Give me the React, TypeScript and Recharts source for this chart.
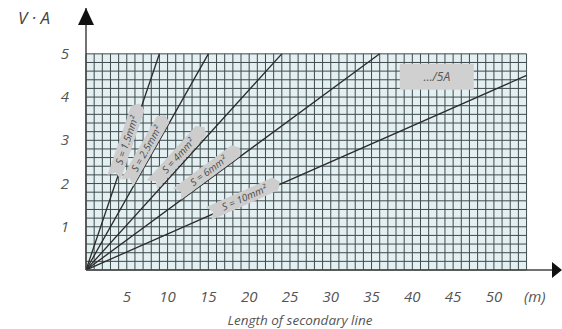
import React from 'react';
import { LineChart, Line, XAxis, YAxis, ReferenceArea, ReferenceLine, ReferenceDot } from 'recharts';

const cableLabels = ['S = 1.5mm²', 'S = 2.5mm²', 'S = 4mm²', 'S = 6mm²', 'S = 10mm²'];
const lineEndLength = [9, 15, 24, 36, 54];
const lineEndVA = [5, 5, 5, 5, 4.5];
const labelLength = [5.0, 7.4, 11.3, 15.0, 19.4];
const labelVA = [3.0, 2.8, 2.64, 2.29, 1.67];
const labelAngle = [71, 60.5, 48, 36.5, 24];

const xTicks = [5, 10, 15, 20, 25, 30, 35, 40, 45, 50, 55];
const yTicks = [1, 2, 3, 4, 5];
const currentLabel = '…/5A';
const currentLabelPos = { x: 43.0, y: 4.47 };

const GRID_X_MAX = 54;
const GRID_Y_MAX = 5;
const X_DOMAIN_MAX = 58.1;
const Y_DOMAIN_MAX = 6.06;
const gridXs = Array.from({ length: GRID_X_MAX + 1 }, (_, i) => i);
const gridYs = Array.from({ length: 26 }, (_, i) => +(i * 0.2).toFixed(1));

const FONT = '"Open Sans", "DejaVu Sans", sans-serif';

const XTick = (props: any) => {
  const { x, y, payload } = props;
  const label = payload.value === 55 ? '(m)' : String(payload.value);
  return (
    <text x={x} y={y + 32} textAnchor="middle" fontFamily={FONT} fontStyle="italic" fontSize={15} fill="#555">
      {label}
    </text>
  );
};

const YTick = (props: any) => {
  const { x, y, payload } = props;
  return (
    <text x={x - 21} y={y + 5} textAnchor="middle" fontFamily={FONT} fontStyle="italic" fontSize={15} fill="#555">
      {payload.value}
    </text>
  );
};

const makeTagShape = (text: string, angle: number) => (props: any) => {
  const { cx, cy } = props;
  const len = 78;
  const h = 14;
  const p = 5;
  const pts = [
    [-len / 2, -h / 2],
    [len / 2 - p, -h / 2],
    [len / 2, 0],
    [len / 2 - p, h / 2],
    [-len / 2, h / 2],
    [-len / 2 + p, 0],
  ]
    .map((q) => q.join(','))
    .join(' ');
  return (
    <g transform={`translate(${cx},${cy}) rotate(${-angle})`}>
      <polygon points={pts} fill="#cdcdcd" />
      <text x={0} y={3.5} textAnchor="middle" fontFamily={FONT} fontStyle="italic" fontSize={10} fill="#4a4a4a">
        {text}
      </text>
    </g>
  );
};

const CurrentShape = (props: any) => {
  const { cx, cy } = props;
  return (
    <g>
      <rect x={cx - 37} y={cy - 13} width={74} height={26} fill="#d0d0d0" />
      <text x={cx} y={cy + 4.5} textAnchor="middle" fontFamily={FONT} fontStyle="italic" fontSize={12} fill="#555">
        {currentLabel}
      </text>
    </g>
  );
};

const YArrow = (props: any) => {
  const { cx, cy } = props;
  return <polygon points={`${cx},${cy} ${cx - 8},${cy + 17} ${cx + 8},${cy + 17}`} fill="#111" />;
};

const XArrow = (props: any) => {
  const { cx, cy } = props;
  return <polygon points={`${cx + 2},${cy} ${cx - 8},${cy - 8} ${cx - 8},${cy + 8}`} fill="#111" />;
};

const YLabel = (props: any) => {
  const { viewBox } = props;
  return (
    <text x={viewBox.x + 34} y={viewBox.y + 16} textAnchor="middle" fontFamily={FONT} fontStyle="italic" fontSize={17} fill="#444">
      V · A
    </text>
  );
};

const XLabel = (props: any) => {
  const { viewBox } = props;
  return (
    <text x={viewBox.x + 214} y={viewBox.y + 55} textAnchor="middle" fontFamily={FONT} fontStyle="italic" fontSize={13.5} fill="#555">
      Length of secondary line
    </text>
  );
};

export default function App() {
  return (
    <div style={{ position: 'absolute', left: 0, top: 0, background: '#fff' }}>
      <LineChart width={562} height={329} margin={{ top: 8, right: 2, bottom: 0, left: 0 }}>
        <XAxis
          type="number"
          dataKey="x"
          domain={[0, X_DOMAIN_MAX]}
          ticks={xTicks}
          interval={0}
          tickLine={false}
          tickSize={0}
          tickMargin={0}
          tick={<XTick />}
          height={59}
          axisLine={{ stroke: '#444', strokeWidth: 1.5 }}
          allowDataOverflow
          label={<XLabel />}
        />
        <YAxis
          type="number"
          dataKey="y"
          domain={[0, Y_DOMAIN_MAX]}
          ticks={yTicks}
          interval={0}
          tickLine={false}
          tickSize={0}
          tickMargin={0}
          tick={<YTick />}
          width={86}
          axisLine={{ stroke: '#444', strokeWidth: 1.5 }}
          allowDataOverflow
          label={<YLabel />}
        />
        <ReferenceArea x1={0} x2={GRID_X_MAX} y1={0} y2={GRID_Y_MAX} fill="#e3eff1" fillOpacity={1} stroke="none" />
        {gridXs.map((gx) => (
          <ReferenceLine
            key={'gx' + gx}
            segment={[{ x: gx, y: 0 }, { x: gx, y: GRID_Y_MAX }]}
            stroke="#3e4b4d"
            strokeWidth={1}
          />
        ))}
        {gridYs.map((gy) => (
          <ReferenceLine
            key={'gy' + gy}
            segment={[{ x: 0, y: gy }, { x: GRID_X_MAX, y: gy }]}
            stroke="#3e4b4d"
            strokeWidth={1}
          />
        ))}
        {cableLabels.map((name, i) => (
          <Line
            key={name}
            data={[{ x: 0, y: 0 }, { x: lineEndLength[i], y: lineEndVA[i] }]}
            dataKey="y"
            type="linear"
            stroke="#2a2a2a"
            strokeWidth={1.3}
            dot={false}
            activeDot={false}
            isAnimationActive={false}
          />
        ))}
        {cableLabels.map((name, i) => (
          <ReferenceDot
            key={'lab' + name}
            x={labelLength[i]}
            y={labelVA[i]}
            ifOverflow="visible"
            shape={makeTagShape(name, labelAngle[i])}
          />
        ))}
        <ReferenceDot x={currentLabelPos.x} y={currentLabelPos.y} ifOverflow="visible" shape={CurrentShape} />
        <ReferenceDot x={0} y={Y_DOMAIN_MAX} ifOverflow="visible" shape={YArrow} />
        <ReferenceDot x={X_DOMAIN_MAX} y={0} ifOverflow="visible" shape={XArrow} />
      </LineChart>
    </div>
  );
}
